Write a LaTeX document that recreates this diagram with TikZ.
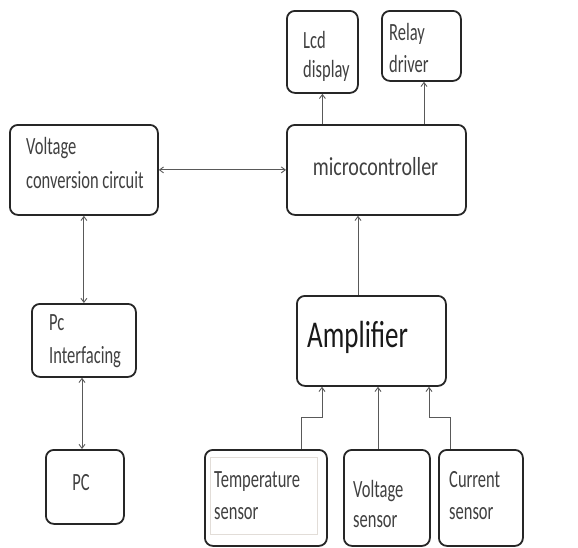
\documentclass[tikz,border=0pt]{standalone}
\usepackage{fontspec}
\setmainfont{Carlito}
\usetikzlibrary{arrows.meta,calc}
\tikzset{
 box/.style={draw=black!85, line width=1.8pt, rounded corners=8pt, anchor=north west, inner sep=0pt},
 conn/.style={draw=black!65, line width=0.9pt},
 arr/.style={conn, -{Straight Barb[length=4pt,width=6pt]}},
 darr/.style={conn, {Straight Barb[length=4pt,width=6pt]}-{Straight Barb[length=4pt,width=6pt]}},
 txt/.style={anchor=base west, align=left, inner sep=0pt, text=black!75, font=\fontsize{16.5}{32}\selectfont},
}
\newcommand\ty[2][1.5]{\scalebox{1}[#1]{#2}}
\begin{document}
\begin{tikzpicture}[x=1pt,y=-1pt]
\useasboundingbox (0,0) rectangle (578,547);
% boxes
\node[box, minimum width=71pt, minimum height=82pt] (lcd) at (286,10) {};
\node[box, minimum width=79pt, minimum height=70pt] (relay) at (381,10) {};
\node[box, minimum width=148pt, minimum height=90pt] (vcc) at (9,124) {};
\node[box, minimum width=179pt, minimum height=90pt] (mcu) at (286,124) {};
\node[box, minimum width=104pt, minimum height=73pt] (pci) at (31,303) {};
\node[box, minimum width=78pt, minimum height=74pt] (pc) at (45,449) {};
\node[box, minimum width=149pt, minimum height=90pt] (amp) at (296,295) {};
\node[box, minimum width=122pt, minimum height=96pt] (temp) at (204,449) {};
\node[box, minimum width=86pt, minimum height=96pt] (vs) at (343,449) {};
\node[box, minimum width=84pt, minimum height=96pt] (cs) at (438,449) {};
\node[draw=black!10!white!92!brown, line width=0.8pt, anchor=north west, inner sep=0pt, minimum width=107pt, minimum height=77pt] (tempin) at (210,457) {};
% texts (base anchor = baseline of last line)
\node[txt, font=\fontsize{16.5}{29}\selectfont] (lcdt) at (303,77) {\ty{Lcd}\\\ty{display}};
\node[txt] (relayt) at (389,72) {\ty{Relay}\\\ty{driver}};
\node[txt, font=\fontsize{16.5}{34}\selectfont] (vcct) at (26,188) {\ty{Voltage}\\\ty{conversion circuit}};
\node[txt, anchor=base, font=\fontsize{20}{24}\selectfont] (mcut) at (375.5,175) {\ty[1.3]{microcontroller}};
\node[txt, font=\fontsize{16.5}{33}\selectfont] (pcit) at (49,363) {\ty{Pc}\\\ty{Interfacing}};
\node[txt, anchor=base] (pct) at (81,490) {\ty{PC}};
\node[txt, text=black!90, font=\fontsize{27}{30}\selectfont] (ampt) at (307,347) {\ty[1.4]{Amplifier}};
\node[txt] (tempt) at (214,519) {\ty{Temperature}\\\ty{sensor}};
\node[txt, font=\fontsize{16.5}{30}\selectfont] (vst) at (353,527) {\ty{Voltage}\\\ty{sensor}};
\node[txt] (cst) at (449,519) {\ty{Current}\\\ty{sensor}};
% helper coordinates
\coordinate (pcx) at (82,0);
\coordinate (ax) at (358,0);
\coordinate (rx) at (424,0);
\coordinate (tx) at (301,0);
\coordinate (tax) at (322,0);
\coordinate (my) at (0,417);
\coordinate (vx) at (378,0);
\coordinate (cx) at (450,0);
\coordinate (cax) at (429,0);
% connectors
\draw[arr] (lcd.south |- mcu.north) -- (lcd.south);
\draw[arr] (rx |- mcu.north) -- (rx |- relay.south);
\draw[darr] (vcc.east) -- (mcu.west);
\draw[darr] (vcc.south) -- (pci.north);
\draw[darr] (pcx |- pci.south) -- (pcx |- pc.north);
\draw[arr] (ax |- amp.north) -- (ax |- mcu.south);
\draw[arr] (tx |- temp.north) -- (tx |- my) -- (tax |- my) -- (tax |- amp.south);
\draw[arr] (vx |- vs.north) -- (vx |- amp.south);
\draw[arr] (cx |- cs.north) -- (cx |- my) -- (cax |- my) -- (cax |- amp.south);
\end{tikzpicture}
\end{document}
